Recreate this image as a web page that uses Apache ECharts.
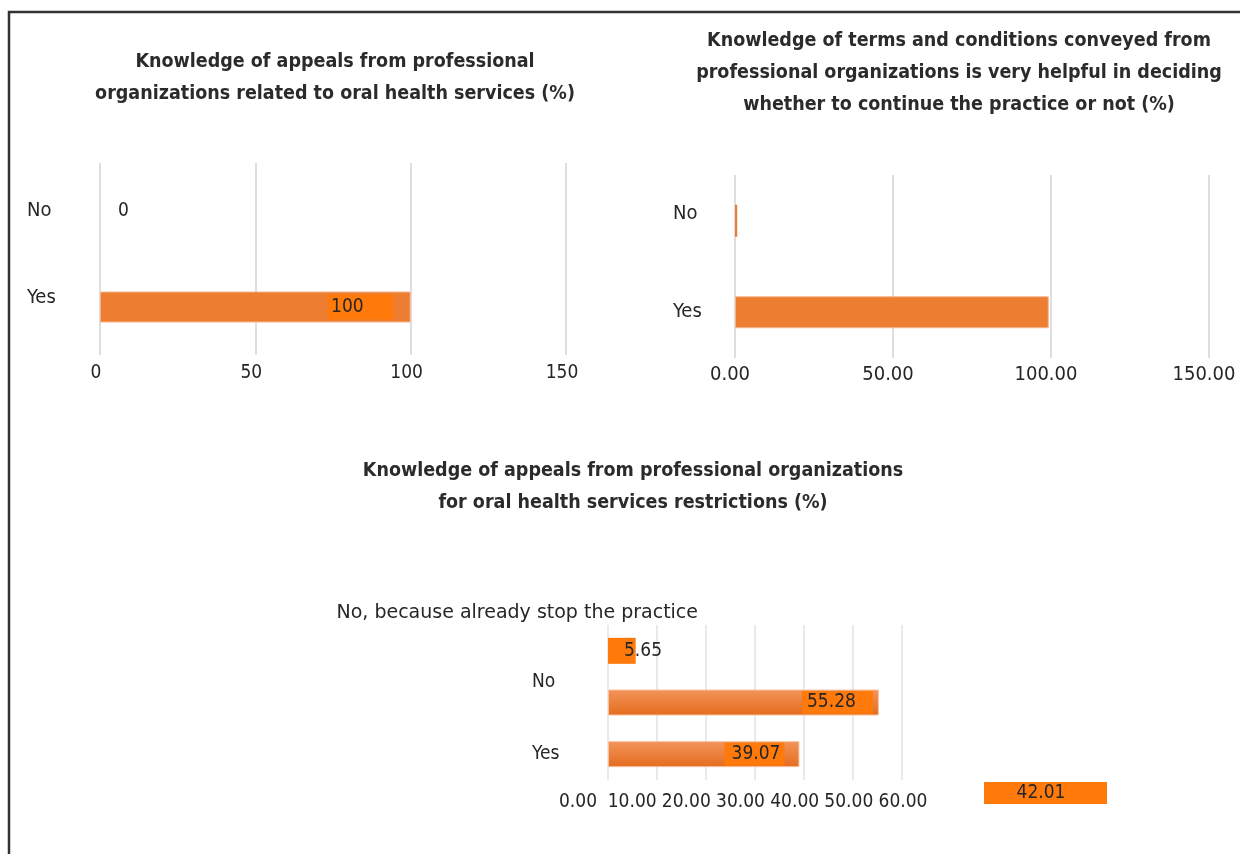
<!DOCTYPE html>
<html>
<head>
<meta charset="utf-8">
<script src="https://cdn.jsdelivr.net/npm/echarts@6/dist/echarts.min.js"></script>
<style>
  html, body { margin: 0; padding: 0; background: #ffffff; }
  #chart { width: 1240px; height: 854px; }
</style>
</head>
<body>
<div id="chart"></div>
<script>
// ---- Panel A: appeals related to oral health services ----
const appealTitle = 'Knowledge of appeals from professional\norganizations related to oral health services (%)';
const appealCategories = ['No', 'Yes'];
const appealValues = [0, 100];
const appealTicks = [0, 50, 100, 150];

// ---- Panel B: terms and conditions helpfulness ----
const termsTitle = 'Knowledge of terms and conditions conveyed from\nprofessional organizations is very helpful in deciding\nwhether to continue the practice or not (%)';
const termsCategories = ['No', 'Yes'];
const termsValues = [0.7, 99.3];
const termsTicks = [0, 50, 100, 150];

// ---- Panel C: appeals for service restrictions ----
const restrictTitle = 'Knowledge of appeals from professional organizations\nfor oral health services restrictions (%)';
const restrictCategories = ['No, because already stop the practice', 'No', 'Yes'];
const restrictValues = [5.65, 55.28, 39.07];
const restrictTicks = [0, 10, 20, 30, 40, 50, 60];
const noteValue = '42.01';

// ---- shared styling ----
const FONT = '"DejaVu Sans Condensed", "DejaVu Sans", sans-serif';
const WIDE_FONT = '"DejaVu Sans", sans-serif';
const INK = '#262626';
const ORANGE = '#ED7D31';
const BRIGHT = '#FF7A0A';
const GRID_GREY = '#DEDEDE';

const first = a => a[0];
const last = a => a[a.length - 1];
const step = a => a[1] - a[0];

// label placement per bar (styles only, values come from the arrays above)
const appealLabelStyles = [
  { position: 'right', distance: 18 },
  { position: 'insideRight', distance: 17, backgroundColor: BRIGHT, padding: [3, 30, 3, 3] }
];
const termsItemStyles = [
  { borderWidth: 0 },
  {}
];
const restrictLabelStyles = [
  { position: 'insideLeft', distance: 16 },
  { position: 'insideRight', distance: 6, backgroundColor: BRIGHT, padding: [2, 17, 2, 5] },
  { position: 'insideRight', distance: 15, backgroundColor: BRIGHT, padding: [2, 4, 2, 7] }
];
const restrictItemStyles = [
  { color: BRIGHT, borderWidth: 0 },
  {},
  {}
];
// category label boxes (rich tokens): width / alignment / vertical nudge
const appealCatTokens = [
  { width: 65, align: 'left', fontSize: 20 },
  { width: 65, align: 'left', fontSize: 20, padding: [0, 0, 18, 0] }
];
const termsCatTokens = [
  { width: 54, align: 'left', fontSize: 20, padding: [0, 0, 14, 0] },
  { width: 54, align: 'left', fontSize: 20 }
];
const restrictCatTokens = [
  { width: 365, align: 'right', fontFamily: WIDE_FONT, padding: [0, 0, 76, 0] },
  { width: 166, align: 'left', padding: [0, 0, 40, 0] },
  { width: 166, align: 'left' }
];

const baseText = { fontFamily: FONT, fontSize: 19, color: INK };
const titleText = { fontFamily: FONT, fontSize: 19.5, fontWeight: 'bold', color: '#2b2b2b', lineHeight: 32 };

function catAxis(gridIndex, cats, tokens, margin) {
  const rich = {};
  tokens.forEach((t, i) => { rich['c' + i] = Object.assign({}, baseText, t); });
  return {
    gridIndex, type: 'category', inverse: true, data: cats,
    axisLine: { show: false }, axisTick: { show: false },
    axisLabel: Object.assign({
      margin, rich,
      formatter: (v, i) => '{c' + i + '|' + v + '}'
    }, baseText)
  };
}

function valAxis(gridIndex, ticks, opts) {
  return Object.assign({
    gridIndex, type: 'value',
    min: first(ticks), max: last(ticks), interval: step(ticks),
    axisLine: { show: false }, axisTick: { show: false },
    splitLine: { show: true, lineStyle: { color: GRID_GREY, width: 2 } }
  }, opts);
}

const restrictGradient = new echarts.graphic.LinearGradient(0, 0, 0, 1, [
  { offset: 0, color: '#F3945A' },
  { offset: 1, color: '#E46C1E' }
]);

const option = {
  backgroundColor: '#ffffff',
  animation: false,
  title: [
    { text: appealTitle, left: 335, top: 46, textAlign: 'center', padding: 0, textStyle: titleText },
    { text: termsTitle, left: 959, top: 25, textAlign: 'center', padding: 0, textStyle: titleText },
    { text: restrictTitle, left: 633, top: 455, textAlign: 'center', padding: 0, textStyle: titleText }
  ],
  grid: [
    { left: 100, top: 163, width: 466, height: 192, outerBoundsMode: 'none' },
    { left: 735, top: 175, width: 474, height: 183, outerBoundsMode: 'none' },
    { left: 608, top: 625, width: 294, height: 155, outerBoundsMode: 'none' },
    // tick-label strip under panel C
    { left: 578, top: 625, width: 325, height: 155, outerBoundsMode: 'none' }
  ],
  xAxis: [
    valAxis(0, appealTicks, {
      axisLabel: Object.assign({ margin: 9, padding: [0, 8, 0, 0] }, baseText)
    }),
    valAxis(1, termsTicks, {
      axisLabel: Object.assign({ margin: 7, padding: [0, 10, 0, 0], formatter: v => v.toFixed(2) }, baseText, { fontSize: 20 })
    }),
    valAxis(2, restrictTicks, {
      axisLabel: { show: false },
      splitLine: { show: true, lineStyle: { color: '#E2E2EA', width: 1.5 } }
    }),
    valAxis(3, restrictTicks, {
      splitLine: { show: false },
      axisLabel: Object.assign({ margin: 13, formatter: v => v.toFixed(2) }, baseText)
    })
  ],
  yAxis: [
    catAxis(0, appealCategories, appealCatTokens, 8),
    catAxis(1, termsCategories, termsCatTokens, 8),
    catAxis(2, restrictCategories, restrictCatTokens, -90),
    { gridIndex: 3, type: 'value', show: false }
  ],
  series: [
    {
      type: 'bar', xAxisIndex: 0, yAxisIndex: 0, barWidth: 31, silent: true,
      itemStyle: { color: ORANGE, borderColor: '#F6B68C', borderWidth: 1 },
      label: Object.assign({ show: true }, baseText),
      data: appealValues.map((v, i) => ({
        value: v,
        label: appealLabelStyles[i],
        itemStyle: v === 0 ? { borderWidth: 0 } : {}
      }))
    },
    {
      type: 'bar', xAxisIndex: 1, yAxisIndex: 1, barWidth: 32, silent: true,
      itemStyle: { color: ORANGE, borderColor: '#F6B68C', borderWidth: 1 },
      data: termsValues.map((v, i) => ({ value: v, itemStyle: termsItemStyles[i] }))
    },
    {
      type: 'bar', xAxisIndex: 2, yAxisIndex: 2, barWidth: 26, silent: true,
      itemStyle: { color: restrictGradient, borderColor: '#F7C19E', borderWidth: 1 },
      label: Object.assign({ show: true, formatter: p => p.value.toFixed(2) }, baseText),
      data: restrictValues.map((v, i) => ({
        value: v,
        label: restrictLabelStyles[i],
        itemStyle: restrictItemStyles[i]
      }))
    }
  ],
  graphic: [
    {
      type: 'polyline', silent: true,
      shape: { points: [[9, 854], [9, 12], [1240, 12]] },
      style: { stroke: '#333333', lineWidth: 2.5, fill: null }
    },
    {
      type: 'group', left: 984, top: 782, silent: true,
      children: [
        { type: 'rect', shape: { x: 0, y: 0, width: 123, height: 22 }, style: { fill: BRIGHT } },
        { type: 'text', x: 57, y: 11,
          style: { text: noteValue, fill: INK, font: '19px ' + FONT, align: 'center', verticalAlign: 'middle' } }
      ]
    }
  ]
};

echarts.init(document.getElementById('chart'), null, { renderer: 'canvas' }).setOption(option);
</script>
</body>
</html>
